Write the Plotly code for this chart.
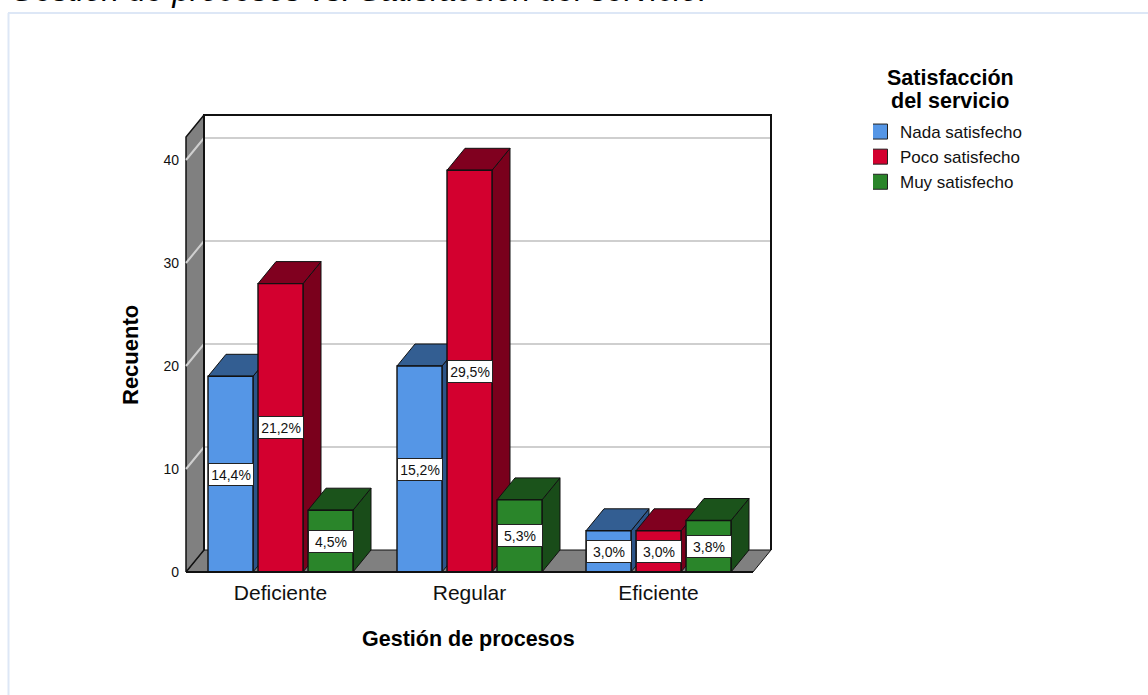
import plotly.graph_objects as go

categories = ["Deficiente", "Regular", "Eficiente"]
series_names = ["Nada satisfecho", "Poco satisfecho", "Muy satisfecho"]
nada = [19, 20, 4]
poco = [28, 39, 4]
muy = [6, 7, 5]
nada_labels = ["14,4%", "15,2%", "3,0%"]
poco_labels = ["21,2%", "29,5%", "3,0%"]
muy_labels = ["4,5%", "5,3%", "3,8%"]
y_ticks = [0, 10, 20, 30, 40]

W, H = 1148, 695
PX_PER_CAT, PX_PER_VAL = 189, 10.3
PAD = 2            # px of slack round the box so that its edge lines are not clipped
FRONT_L, FRONT_R, FRONT_T, FRONT_B = 186, 753, 137, 572
YMAX = (FRONT_B - FRONT_T) / PX_PER_VAL
DX = 18 / PX_PER_CAT
DY = 22 / PX_PER_VAL
BAR_PITCH = 50 / PX_PER_CAT
BAR_W = 45 / PX_PER_CAT

front = ["#5596E6", "#D3002F", "#2A852A"]
top = ["#335E92", "#80001F", "#1B531B"]
side = ["#2C5589", "#7A001C", "#194C19"]
GREY = "#808080"
GRID = "#CFCFCF"
INK = "#111111"
idx = list(range(len(categories)))
xmin, xmax = -0.5, len(categories) - 0.5

fig = go.Figure()


def poly(xs, ys, fill, lw=1.0, color=INK):
    fig.add_trace(go.Scatter(x=xs, y=ys, mode="lines", fill="toself", fillcolor=fill,
                             line=dict(color=color, width=lw),
                             hoverinfo="skip", showlegend=False))


def line(xs, ys, color, lw, axes=None):
    fig.add_trace(go.Scatter(x=xs, y=ys, mode="lines", line=dict(color=color, width=lw),
                             hoverinfo="skip", showlegend=False,
                             xaxis=axes[0] if axes else "x", yaxis=axes[1] if axes else "y"))


# floor, left wall, back pane
poly([xmin, xmin + DX, xmax + DX, xmax, xmin], [0, DY, DY, 0, 0], GREY)
poly([xmin, xmin + DX, xmin + DX, xmin, xmin], [0, DY, YMAX + DY, YMAX, 0], GREY, 1.5)
for v in y_ticks[1:]:
    line([xmin, xmin + DX, xmax + DX], [v, v + DY, v + DY], GRID, 2)
line([xmin + DX, xmin + DX, xmax + DX, xmax + DX], [DY, YMAX + DY, YMAX + DY, DY], INK, 2)

# side and top faces, left to right
values = [nada, poco, muy]
for c in idx:
    for s, vals in enumerate(values):
        cx = c + (s - 1) * BAR_PITCH
        l, r = cx - BAR_W / 2, cx + BAR_W / 2
        v = vals[c]
        poly([r, r + DX, r + DX, r, r], [0, DY, v + DY, v, 0], side[s])
        poly([l, l + DX, r + DX, r, l], [v, v + DY, v + DY, v, v], top[s])

# front faces on an overlaid pair of axes so they sit above the depth faces
for s, vals in enumerate(values):
    fig.add_trace(go.Bar(x=idx, y=vals, name=series_names[s], xaxis="x2", yaxis="y2",
                         marker=dict(color=front[s], line=dict(color=INK, width=1.4)),
                         showlegend=False))
line([xmin, xmax], [0, 0], INK, 2, ("x2", "y2"))

# legend entries
for s, name in enumerate(series_names):
    fig.add_trace(go.Scatter(x=[None], y=[None], mode="markers", name=name,
                             marker=dict(symbol="square", size=15, color=front[s],
                                         line=dict(color="#222222", width=1))))

labels = [nada_labels, poco_labels, muy_labels]
annotations = []
for c in idx:
    for s, vals in enumerate(values):
        annotations.append(dict(x=c + (s - 1) * BAR_PITCH, y=vals[c] / 2, xref="x2", yref="y2",
                                text=labels[s][c], showarrow=False, width=42, height=19,
                                bgcolor="white", bordercolor="#222222", borderwidth=1, borderpad=1,
                                font=dict(family="Liberation Sans", size=14, color=INK)))


def paper_text(px, py, text, size, xanchor="center", yanchor="middle", **kw):
    return dict(x=px / W, y=(H - py) / H, xref="paper", yref="paper", text=text, showarrow=False,
                xanchor=xanchor, yanchor=yanchor,
                font=dict(family="Liberation Sans", size=size, color="#000000"), **kw)


annotations += [
    paper_text(9, 9, "<i>Gestión de procesos vs. Satisfacción del servicio.</i>", 31.75,
               xanchor="left", yanchor="bottom", borderpad=0),
    paper_text(469, 639, "<b>Gestión de procesos</b>", 21.5),
    paper_text(131, 355, "<b>Recuento</b>", 22, textangle=-90),
    paper_text(950, 78, "<b>Satisfacción</b>", 21.5),
    paper_text(950, 101, "<b>del servicio</b>", 21.5),
]

dom_x = [(FRONT_L - PAD) / W, (FRONT_R + 18 + PAD) / W]
dom_y = [(H - FRONT_B - PAD) / H, (H - FRONT_T + 22 + PAD) / H]
x_range = [xmin - PAD / PX_PER_CAT, xmax + DX + PAD / PX_PER_CAT]
y_range = [-PAD / PX_PER_VAL, YMAX + DY + PAD / PX_PER_VAL]
fig.update_layout(
    width=W, height=H, margin=dict(l=0, r=0, t=0, b=0, autoexpand=False),
    paper_bgcolor="white", plot_bgcolor="rgba(0,0,0,0)",
    font=dict(family="Liberation Sans", color=INK),
    barmode="group", bargap=1 - 3 * BAR_PITCH, bargroupgap=(BAR_PITCH - BAR_W) / BAR_PITCH,
    xaxis=dict(domain=dom_x, range=x_range, tickvals=idx, ticktext=categories,
               showgrid=False, zeroline=False, showline=False, ticks="",
               ticklabelstandoff=4, tickfont=dict(size=21)),
    yaxis=dict(domain=dom_y, range=y_range, tickvals=y_ticks, showgrid=False, zeroline=False,
               showline=False, ticks="", ticklabelstandoff=4, tickfont=dict(size=14)),
    xaxis2=dict(domain=dom_x, range=x_range, overlaying="x", visible=False),
    yaxis2=dict(domain=dom_y, range=y_range, overlaying="y", visible=False),
    legend=dict(x=873 / W, y=(H - 114) / H, xanchor="left", yanchor="top",
                font=dict(size=17), indentation=-13, bgcolor="rgba(0,0,0,0)"),
    annotations=annotations,
    shapes=[
        dict(type="line", xref="paper", yref="paper", x0=8 / W, x1=1, y0=(H - 13) / H, y1=(H - 13) / H,
             line=dict(color="#DDE7F6", width=2)),
        dict(type="line", xref="paper", yref="paper", x0=8.5 / W, x1=8.5 / W, y0=0, y1=(H - 13) / H,
             line=dict(color="#DDE7F6", width=2)),
    ],
    showlegend=True,
)

fig.write_html("out.html", post_script="document.body.style.margin='0';document.documentElement.style.overflow='hidden';",
               config={"displayModeBar": False})
